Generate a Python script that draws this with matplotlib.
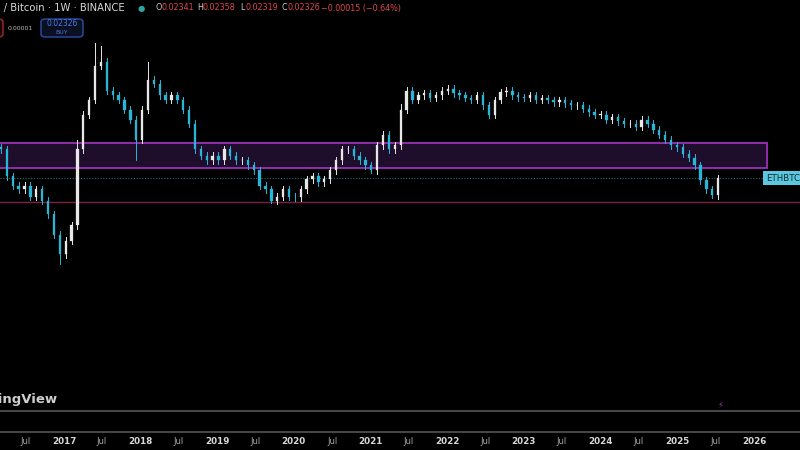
import matplotlib
matplotlib.use("Agg")
import matplotlib.pyplot as plt
import matplotlib.dates as mdates
from matplotlib.patches import Rectangle, FancyBboxPatch
import datetime as dt
import numpy as np

start = dt.date(2016, 3, 7)
period_days = 28
closes = [0.035, 0.024, 0.021, 0.020, 0.021, 0.018, 0.020, 0.017, 0.014, 0.0105,
          0.008, 0.0097, 0.012, 0.035, 0.057, 0.070, 0.113, 0.12, 0.080, 0.075,
          0.070, 0.061, 0.053, 0.040, 0.061, 0.093, 0.088, 0.075, 0.070, 0.075,
          0.070, 0.061, 0.050, 0.035, 0.032, 0.030, 0.032, 0.030, 0.035, 0.032,
          0.030, 0.030, 0.028, 0.026, 0.021, 0.020, 0.017, 0.018, 0.020, 0.018,
          0.0178, 0.020, 0.023, 0.024, 0.022, 0.023, 0.026, 0.030, 0.035, 0.035,
          0.032, 0.030, 0.028, 0.026, 0.037, 0.043, 0.035, 0.037, 0.061, 0.080,
          0.070, 0.075, 0.077, 0.072, 0.075, 0.080, 0.082, 0.077, 0.075, 0.072,
          0.070, 0.075, 0.065, 0.057, 0.070, 0.078, 0.080, 0.075, 0.073, 0.072,
          0.075, 0.070, 0.072, 0.070, 0.068, 0.070, 0.067, 0.065, 0.065, 0.062,
          0.059, 0.057, 0.057, 0.053, 0.055, 0.052, 0.050, 0.050, 0.048, 0.053,
          0.050, 0.046, 0.043, 0.040, 0.037, 0.036, 0.033, 0.031, 0.028, 0.0227,
          0.020, 0.0184, 0.02326]
first_open = 0.036
spike_highs = {16: 0.156, 17: 0.150, 25: 0.120, 13: 0.040, 68: 0.066, 83: 0.068}
spike_lows = {10: 0.0070, 23: 0.030, 46: 0.0165, 63: 0.025, 121: 0.0176}
band_top, band_bottom = 0.0385, 0.0270
support = 0.0168
last_price = 0.02326

BG = "#000000"
UP = "#e8e8e8"
DN = "#29b6d6"

fig = plt.figure(figsize=(8, 4.5), dpi=100, facecolor=BG)
ax = fig.add_axes([0, 39/450, 1, 411/450], facecolor=BG)
ref = mdates.date2num(dt.date(2017, 1, 1))
pxday = 76.67 / 365.25
xl = (ref - 64/pxday, ref + 736/pxday)
ax.set_xlim(xl)
ax.set_yscale("log")
ax.set_ylim(0.016*np.exp(-206*0.01406), 0.016*np.exp(205*0.01406))
ax.axis("off")

opens = [first_open] + closes[:-1]
w = period_days * 0.4
for i, (o, c) in enumerate(zip(opens, closes)):
    x = mdates.date2num(start + dt.timedelta(days=period_days*i))
    col = UP if c >= o else DN
    hi = spike_highs.get(i, max(o, c) * 1.05)
    lo = spike_lows.get(i, min(o, c) / 1.05)
    ax.plot([x, x], [lo, hi], color=col, lw=0.7, zorder=3)
    ax.add_patch(Rectangle((x - w/2, min(o, c)), w, abs(c - o) or 0.0002,
                           facecolor=col, edgecolor=col, lw=0.2, zorder=4))

x0 = xl[0]
x_end = ref + 703/pxday
ax.add_patch(Rectangle((x0 - 5, band_bottom), x_end - x0 + 5, band_top - band_bottom,
                       facecolor="#1f0e2b", edgecolor="#9b30b8", lw=1.3, zorder=1))
ax.axhline(support, color="#7a1f45", lw=1.0, zorder=2)
ax.plot([x0, ref + 699/pxday], [last_price]*2, color="#1f6f7a", lw=0.8, ls=(0, (1, 1.5)), zorder=2)
ax.text(ref + 702/pxday, last_price, "ETHBTC", color="#0b2a33", fontsize=6.2, va="center", ha="left",
        bbox=dict(boxstyle="square,pad=0.3", fc="#5cc8e0", ec="none"), zorder=6)

# bottom time axis
tax = fig.add_axes([0, 0, 1, 18/450], facecolor=BG)
tax.set_xlim(xl); tax.set_ylim(0, 1); tax.axis("off")
for yr in range(2016, 2027):
    xy = mdates.date2num(dt.date(yr, 1, 1))
    xj = mdates.date2num(dt.date(yr, 7, 1))
    if yr >= 2017:
        tax.text(xy, 0.5, str(yr), color="#d8d8d8", fontsize=6.3, fontweight="bold", ha="center", va="center")
    if yr <= 2025:
        tax.text(xj, 0.5, "Jul", color="#a8a8a8", fontsize=6, ha="center", va="center")

fig.add_artist(plt.Line2D([0, 1], [1-411/450]*2, color="#555555", lw=1.2))
fig.add_artist(plt.Line2D([0, 1], [1-432/450]*2, color="#555555", lw=1.2))
fig.text(58/800, 1-400/450, "TradingView", color="#cfcfcf", fontsize=9.5, fontweight="bold", ha="right", va="center")
fig.text(720/800, 1-405/450, "⚡", color="#9b30b8", fontsize=6, ha="center", va="center")

# header
fig.text(125/800, 1-8/450, "Ethereum / Bitcoin · 1W · BINANCE", color="#d8d8d8", fontsize=7.2, ha="right", va="center")
fig.text(141/800, 1-8/450, "●", color="#2ea5a0", fontsize=6, ha="center", va="center")
parts = [("O", 156, "0.02341"), ("H", 197, "0.02358"), ("L", 240, "0.02319"), ("C", 281, "0.02326")]
for lab, px, val in parts:
    fig.text(px/800, 1-8/450, lab, color="#cccccc", fontsize=5.8, ha="left", va="center")
    fig.text((px+6)/800, 1-8/450, val, color="#e0474c", fontsize=5.8, ha="left", va="center")
fig.text(321/800, 1-8/450, "−0.00015 (−0.64%)", color="#e0474c", fontsize=5.8, ha="left", va="center")
fig.text(20/800, 1-28/450, "0.00001", color="#bbbbbb", fontsize=4.5, ha="center", va="center")
fig.add_artist(FancyBboxPatch((41/800, 1-37/450), 42/800, 18/450, boxstyle="round,pad=0,rounding_size=0.006",
                              fc="#0a0f22", ec="#2d4fa8", lw=1, transform=fig.transFigure))
fig.text(62/800, 1-24/450, "0.02326", color="#4c7ae0", fontsize=5.5, ha="center", va="center")
fig.text(62/800, 1-33/450, "BUY", color="#4c7ae0", fontsize=4.5, ha="center", va="center")
fig.add_artist(FancyBboxPatch((-10/800, 1-37/450), 13/800, 18/450, boxstyle="round,pad=0,rounding_size=0.006",
                              fc="#1a0505", ec="#a02a2a", lw=1, transform=fig.transFigure))

fig.savefig("out.png", dpi=100, facecolor=BG)
